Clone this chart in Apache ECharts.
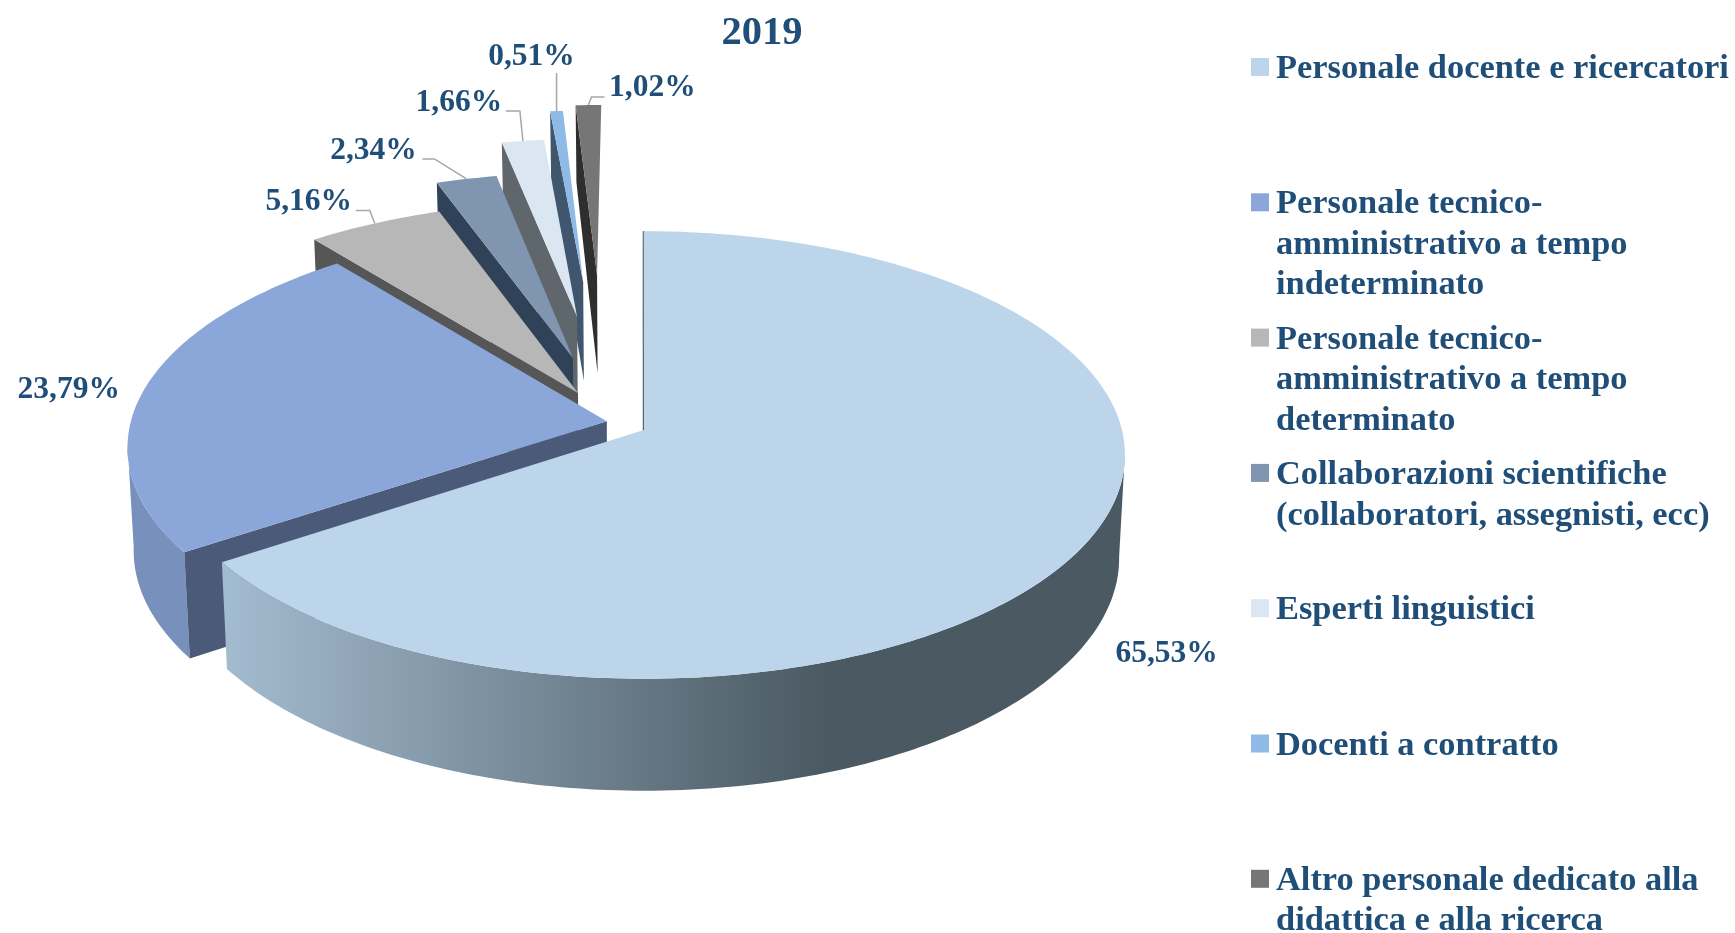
<!DOCTYPE html>
<html><head><meta charset="utf-8">
<style>html,body{margin:0;padding:0;background:#fff}#c{width:1735px;height:933px}</style>
<script src="https://cdn.jsdelivr.net/npm/echarts@6/dist/echarts.min.js"></script>
</head><body><div id="c"></div>
<script>
const titleText = '2019';
const categories = [
  'Personale docente e ricercatori',
  'Personale tecnico-\namministrativo a tempo\nindeterminato',
  'Personale tecnico-\namministrativo a tempo\ndeterminato',
  'Collaborazioni scientifiche\n(collaboratori, assegnisti, ecc)',
  'Esperti linguistici',
  'Docenti a contratto',
  'Altro personale dedicato alla\ndidattica e alla ricerca'
];
const values = [65.53, 23.79, 5.16, 2.34, 1.66, 0.51, 1.02];
const valueLabels = ['65,53%', '23,79%', '5,16%', '2,34%', '1,66%', '0,51%', '1,02%'];

// Styles
const topColors  = ['#bcd5eb', '#8ba6d8', '#b7b7b7', '#8096b0', '#dbe6f3', '#8fbae6', '#767676'];
const sideColors = ['#4a5962', '#4a5a78', '#565656', '#2f4257', '#5f676c', '#3f566e', '#2e2e2e'];
const textColor = '#1f4e79', leaderColor = '#a6a6a6';
const serif = '"Liberation Serif","Times New Roman",serif';
// Explosion of each slice on the pie plane, in units of the radius
const explodeX = [0.004, -0.074, -0.1364, -0.150, -0.144, -0.133, -0.102];
const explodeY = [0, -0.04, -0.1706, -0.338, -0.542, -0.723, -0.759];
// Layout of labels relative to the slice's rim midpoint
const labelOffset = [[77, 115], [-76, 1], [-66, -22], [-93, -28], [-64, -38], [-25, -54], [64, -17]];
const leaderOffset = [null, null, [[-5, -13], [-19, -13]], [[-32, -20], [-44, -20]], [[-3, -30], [-17, -30]], [[0, -38]], [[3, -8], [16, -8]]];
// Scene projection
const CX = 642, CY = 430, A = 478, B = 221, K = 0.1115, BOTTOM = 0.988;
const LEG_X = 1251, LEG_Y = 67, LEG_STEP = 135.3, LEG_BOX = 18, LEG_TEXT = 1276;

const total = values.reduce((a, b) => a + b, 0);
function depth(Y) {
  if (Y > 0) return 103 + 6 * Y + 6 * Y * Y;
  return Y >= -0.8 ? 103 + 9 * Y : 96 + (Y + 0.8) * 24;
}
function top3(X, Y) { const w = 1 - K * Y; return [CX + A * X / w, CY + B * Y / w]; }
function bot3(X, Y) { const p = top3(X, Y); return [CX + (p[0] - CX) * BOTTOM, CY + (p[1] - CY) * BOTTOM + depth(Y)]; }
function rim(i, deg) { const r = deg * Math.PI / 180; return [explodeX[i] + Math.sin(r), explodeY[i] - Math.cos(r)]; }

const startDeg = []; let acc = 0;
values.forEach(v => { startDeg.push(acc / total * 360); acc += v; });

function renderItem(params) {
  const i = params.dataIndex;
  const s = startDeg[i], e = s + values[i] / total * 360;
  const O = [explodeX[i], explodeY[i]];
  const rank = categories.length - 1 - i; // back slices first, the main slice last
  const z = rank * 3 + 1;
  const children = [];

  // outer wall (front-facing part only, between the silhouette tangents)
  const ws = Math.max(s, 96), we = Math.min(e, 264);
  if (we > ws) {
    const up = [], dn = [], n = Math.ceil(we - ws);
    for (let k = 0; k <= n; k++) {
      const q = rim(i, ws + (we - ws) * k / n); up.push(top3(q[0], q[1])); dn.unshift(bot3(q[0], q[1]));
    }
    const fill = i === 0
      ? new echarts.graphic.LinearGradient(0, 0, 1, 0, [{offset: 0, color: '#a4bcd0'}, {offset: 0.67, color: '#4a5962'}, {offset: 1, color: '#4a5962'}])
      : '#7890bc';
    children.push({type: 'polygon', z2: z, shape: {points: up.concat(dn)}, style: {fill}});
  }
  // radial wall at the slice's starting edge
  const q0 = rim(i, s);
  children.push({type: 'polygon', z2: z, shape: {points: [top3(O[0], O[1]), top3(q0[0], q0[1]), bot3(q0[0], q0[1]), bot3(O[0], O[1])]},
    style: {fill: sideColors[i], stroke: sideColors[i], lineWidth: i === 0 ? 2 : 0}});
  // top face
  const face = [top3(O[0], O[1])];
  const n = Math.max(2, Math.ceil(e - s));
  for (let k = 0; k <= n; k++) { const q = rim(i, s + (e - s) * k / n); face.push(top3(q[0], q[1])); }
  children.push({type: 'polygon', z2: z + 1, shape: {points: face}, style: {fill: topColors[i]}});

  // value label + leader
  const qm = rim(i, (s + e) / 2), pm = top3(qm[0], qm[1]);
  const lead = leaderOffset[i];
  if (lead) {
    const pts = [pm].concat(lead.map(o => [pm[0] + o[0], pm[1] + o[1]]));
    children.push({type: 'polyline', z2: 40, shape: {points: pts}, style: {fill: null, stroke: leaderColor, lineWidth: 1.5}});
  }
  children.push({type: 'text', z2: 41, style: {text: valueLabels[i], x: pm[0] + labelOffset[i][0], y: pm[1] + labelOffset[i][1],
    align: 'center', verticalAlign: 'middle', fill: textColor, font: 'bold 31.5px ' + serif}});

  // legend entry
  const ly = LEG_Y + i * LEG_STEP;
  children.push({type: 'rect', z2: 41, shape: {x: LEG_X, y: ly - LEG_BOX / 2, width: LEG_BOX, height: LEG_BOX}, style: {fill: topColors[i]}});
  children.push({type: 'text', z2: 41, style: {text: categories[i], x: LEG_TEXT, y: ly - 18, align: 'left', verticalAlign: 'top',
    lineHeight: 40.5, fill: textColor, font: 'bold 34.4px ' + serif}});
  return {type: 'group', children};
}

const chart = echarts.init(document.getElementById('c'));
chart.setOption({
  animation: false,
  backgroundColor: '#fff',
  title: {text: titleText, left: 757, top: 8, textAlign: 'center',
    textStyle: {color: textColor, fontFamily: serif, fontWeight: 'bold', fontSize: 40.5}},
  series: [{type: 'custom', coordinateSystem: 'none', silent: true, clip: false, renderItem, data: values}]
});
</script></body></html>
